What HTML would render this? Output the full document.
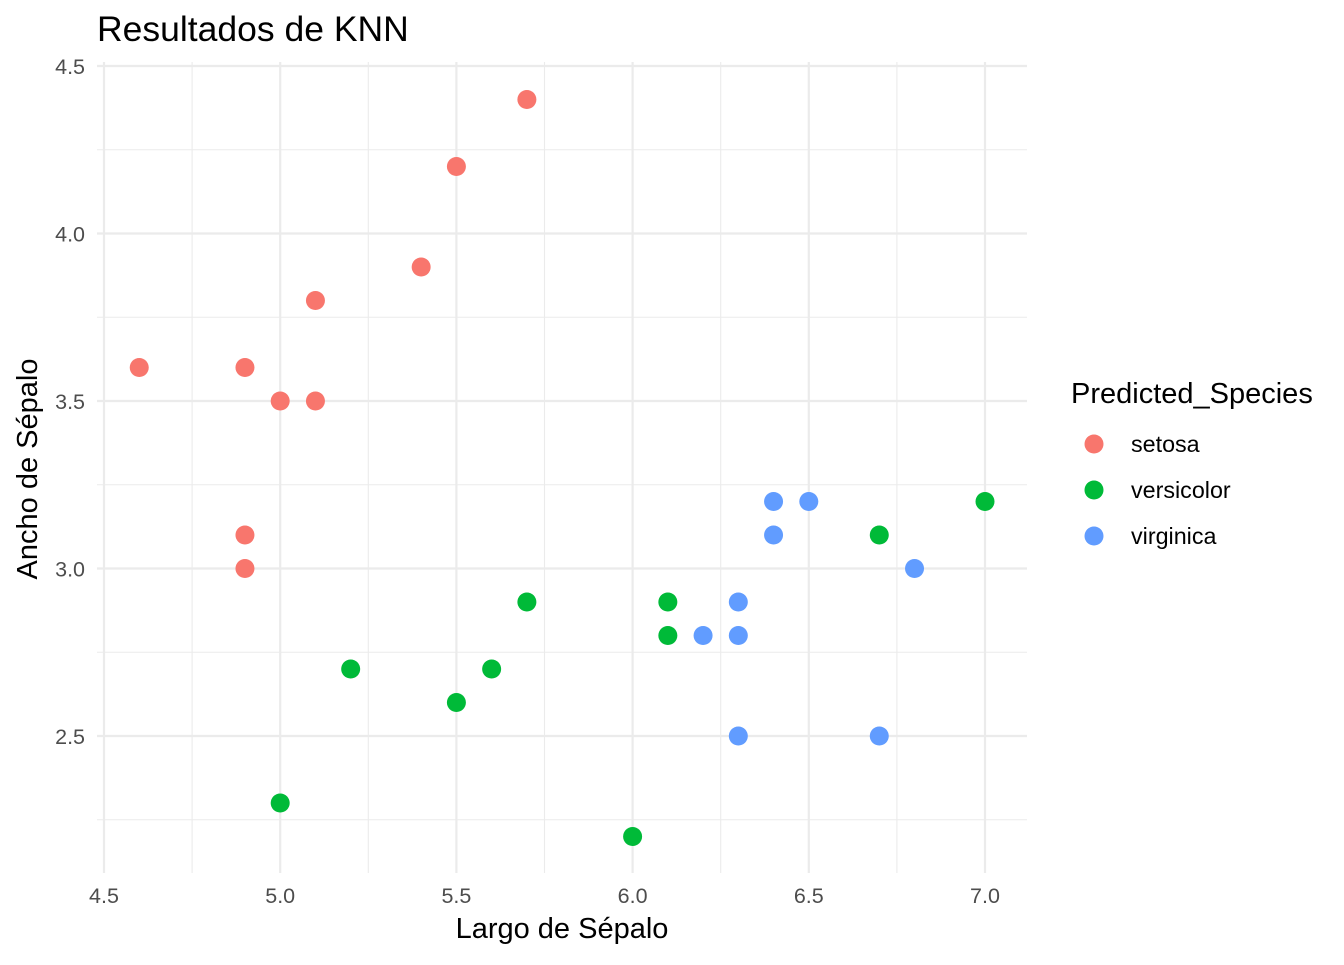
<!DOCTYPE html>
<html><head><meta charset="utf-8"><style>
body{margin:0;background:#fff;}
svg text{font-family:"Liberation Sans",sans-serif;}
</style></head><body>
<svg id="chart" width="1344" height="960" xmlns="http://www.w3.org/2000/svg">
<rect width="1344" height="960" fill="#fff"/>
<g id="grid"></g>
<g id="ticks"></g>
<g id="points"></g>
<text x="97" y="41" font-size="35.5" fill="#000">Resultados de KNN</text>
<text x="562" y="938" font-size="29" text-anchor="middle" fill="#000">Largo de Sépalo</text>
<text transform="translate(37,469) rotate(-90)" font-size="29" text-anchor="middle" fill="#000">Ancho de Sépalo</text>
<g>
<text x="1071" y="403" font-size="29" fill="#000">Predicted_Species</text>
<circle cx="1094" cy="444" r="9.5" fill="#F8766D"/>
<text x="1131" y="452" font-size="23.3" fill="#000">setosa</text>
<circle cx="1094" cy="490" r="9.5" fill="#00BA38"/>
<text x="1131" y="498" font-size="23.3" fill="#000">versicolor</text>
<circle cx="1094" cy="536" r="9.5" fill="#619CFF"/>
<text x="1131" y="544" font-size="23.3" fill="#000">virginica</text>
</g>
</svg>
<script>
const xTicks=[4.5,5.0,5.5,6.0,6.5,7.0];
const xTickLabels=["4.5","5.0","5.5","6.0","6.5","7.0"];
const yTicks=[2.5,3.0,3.5,4.0,4.5];
const yTickLabels=["2.5","3.0","3.5","4.0","4.5"];
const setosaX=[4.6,4.9,5.0,5.1,5.1,5.4,5.5,5.7,4.9,4.9];
const setosaY=[3.6,3.6,3.5,3.5,3.8,3.9,4.2,4.4,3.1,3.0];
const versicolorX=[5.0,5.2,5.5,5.6,5.7,6.0,6.1,6.1,6.7,7.0];
const versicolorY=[2.3,2.7,2.6,2.7,2.9,2.2,2.9,2.8,3.1,3.2];
const virginicaX=[6.4,6.5,6.4,6.8,6.3,6.2,6.3,6.3,6.7];
const virginicaY=[3.2,3.2,3.1,3.0,2.9,2.8,2.8,2.5,2.5];
const NS="http://www.w3.org/2000/svg";
const X0=97,X1=1027,Y0=62,Y1=873;
const xs=v=>104+(v-4.5)*352.4;
const ys=v=>66+(4.5-v)*335;
const grid=document.getElementById('grid'),ticks=document.getElementById('ticks'),pts=document.getElementById('points');
function line(g,x1,y1,x2,y2,w){const l=document.createElementNS(NS,'line');l.setAttribute('x1',x1);l.setAttribute('y1',y1);l.setAttribute('x2',x2);l.setAttribute('y2',y2);l.setAttribute('stroke','#ebebeb');l.setAttribute('stroke-width',w);g.appendChild(l);return l;}
for(let i=0;i<xTicks.length-1;i++){const m=(xTicks[i]+xTicks[i+1])/2;const l=line(grid,xs(m),Y0,xs(m),Y1,1.1);

}
for(let i=0;i<yTicks.length;i++){const m=yTicks[i]-0.25;const l=line(grid,X0,ys(m),X1,ys(m),1.1);

}
xTicks.forEach((v,i)=>{const l=line(grid,xs(v),Y0,xs(v),Y1,2.2);


const t=document.createElementNS(NS,'text');t.setAttribute('x',xs(v));t.setAttribute('y',903);t.setAttribute('text-anchor','middle');t.setAttribute('font-size','21.5');t.setAttribute('fill','#4d4d4d');t.textContent=xTickLabels[i];


ticks.appendChild(t);});
yTicks.forEach((v,i)=>{const l=line(grid,X0,ys(v),X1,ys(v),2.2);


const t=document.createElementNS(NS,'text');t.setAttribute('x',85);t.setAttribute('y',ys(v)+8);t.setAttribute('text-anchor','end');t.setAttribute('font-size','21.5');t.setAttribute('fill','#4d4d4d');t.textContent=yTickLabels[i];


ticks.appendChild(t);});
function series(X,Y,color,name){X.forEach((x,i)=>{const c=document.createElementNS(NS,'circle');c.setAttribute('cx',xs(x));c.setAttribute('cy',ys(Y[i]));c.setAttribute('r',9.5);c.setAttribute('fill',color);


pts.appendChild(c);});}
series(setosaX,setosaY,'#F8766D','setosa');
series(versicolorX,versicolorY,'#00BA38','versicolor');
series(virginicaX,virginicaY,'#619CFF','virginica');
</script>
</body></html>
